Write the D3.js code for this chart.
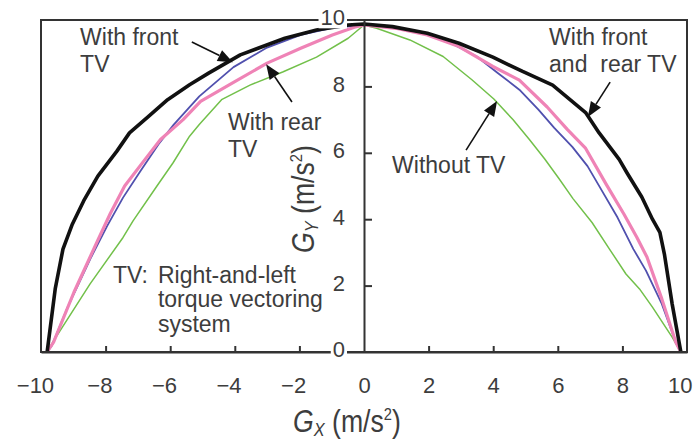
<!DOCTYPE html>
<html>
<head>
<meta charset="utf-8">
<script src="https://cdn.jsdelivr.net/npm/d3@7"></script>
<style>
  html, body { margin: 0; padding: 0; background: #fff; }
  svg { display: block; }
  text { font-family: "Liberation Sans", Arial, Helvetica, sans-serif; }
</style>
</head>
<body>
<svg id="chart" width="693" height="442"></svg>
<script>
// Lateral (Gy) vs longitudinal (Gx) acceleration envelopes, [Gx, Gy] in m/s^2
const withFrontRearTV = [
  [-9.81, 0], [-9.56, 1.9], [-9.32, 3.1], [-9.03, 3.85], [-8.68, 4.55], [-8.24, 5.3],
  [-7.65, 6.05], [-7.26, 6.6], [-6.67, 7.1], [-6.08, 7.6], [-5.40, 8.05], [-4.81, 8.4],
  [-3.83, 8.95], [-2.45, 9.45], [-1.47, 9.7], [-0.49, 9.85], [0, 9.88],
  [0.88, 9.8], [1.96, 9.6], [2.94, 9.3], [3.99, 8.88], [4.91, 8.45], [5.84, 8.04],
  [6.87, 7.2], [7.28, 6.6], [7.90, 5.8], [8.14, 5.4], [8.60, 4.67], [8.93, 4.0],
  [9.16, 3.6], [9.30, 2.95], [9.54, 1.45], [9.81, 0]
];
const withFrontTV = [
  [-9.81, 0], [-9.66, 0.2], [-9.17, 1.36], [-8.44, 2.87], [-7.95, 3.8], [-7.46, 4.65],
  [-6.92, 5.45], [-6.33, 6.3], [-5.89, 6.85], [-5.10, 7.7], [-4.04, 8.58], [-3.0, 9.17],
  [-1.96, 9.55], [-0.98, 9.76], [0, 9.85],
  [1.42, 9.7], [2.40, 9.45], [3.49, 8.9], [4.12, 8.42], [4.81, 7.9], [5.40, 7.3],
  [5.89, 6.75], [6.45, 6.18], [6.92, 5.6], [7.31, 4.95], [7.85, 4.05], [8.34, 3.1],
  [8.73, 2.45], [9.22, 1.45], [9.65, 0.3], [9.81, 0]
];
const withRearTV = [
  [-9.81, 0], [-9.61, 0.3], [-8.98, 1.8], [-8.24, 3.37], [-7.85, 4.18], [-7.41, 5.0],
  [-6.82, 5.75], [-6.3, 6.4], [-5.6, 7.0], [-5.06, 7.55], [-4.04, 8.12],
  [-3.0, 8.7], [-1.96, 9.15], [-0.98, 9.55], [-0.3, 9.78], [0, 9.85],
  [0.98, 9.75], [1.96, 9.55], [2.94, 9.2], [3.99, 8.6], [4.81, 8.19], [5.67, 7.38],
  [6.3, 6.7], [6.85, 6.15], [7.5, 5.05], [8.05, 4.15], [8.45, 3.45], [8.76, 2.86],
  [9.22, 1.6], [9.65, 0.3], [9.81, 0]
];
const withoutTV = [
  [-9.81, 0], [-9.6, 0.35], [-8.48, 2.05], [-7.46, 3.45], [-7.15, 3.95], [-6.41, 5.0],
  [-5.91, 5.7], [-5.4, 6.5], [-5.1, 6.85], [-4.41, 7.6], [-3.53, 8.04], [-2.50, 8.44],
  [-1.47, 8.88], [-0.49, 9.45], [0, 9.85],
  [0.39, 9.75], [1.42, 9.4], [2.45, 8.9], [3.34, 8.2], [4.02, 7.62], [4.61, 7.0],
  [5.12, 6.4], [5.59, 5.82], [6.04, 5.22], [6.47, 4.62], [7.06, 3.9], [7.60, 3.1],
  [8.11, 2.35], [8.53, 1.9], [8.93, 1.35], [9.54, 0.45], [9.81, 0]
];

const xTicks = [-10, -8, -6, -4, -2, 0, 2, 4, 6, 8, 10];
const yTicks = [0, 2, 4, 6, 8, 10];

// Callout labels: text lines, anchor point [Gx, Gy] of the first baseline
const notes = [
  { lines: ["With front", "TV"], at: [-8.79, 9.25] },
  { lines: ["With rear", "TV"], at: [-4.21, 6.69] },
  { lines: ["With front", "and  rear TV"], at: [5.73, 9.25] },
  { lines: ["Without TV"], at: [0.87, 5.39] }
];
// Arrows: [tail, tip] in data units
const arrows = [
  [[-5.33, 9.34], [-4.06, 8.73]],
  [[-2.23, 7.53], [-3.03, 8.67]],
  [[7.62, 8.13], [6.93, 7.08]],
  [[3.16, 6.08], [4.12, 7.56]]
];

const svg = d3.select("#chart");
const x = d3.scaleLinear().domain([-10, 10]).range([41, 687]);
const y = d3.scaleLinear().domain([0, 10]).range([352, 20]);

const ink = "#333";
const textInk = "#3d3d3d";

// curves
const line = d3.line().x(d => x(d[0])).y(d => y(d[1]));
const series = [
  { data: withoutTV, color: "#72c04a", width: 1.5 },
  { data: withFrontTV, color: "#5050ae", width: 1.8 },
  { data: withRearTV, color: "#ef83b6", width: 3.2 },
  { data: withFrontRearTV, color: "#111", width: 3.6 }
];
svg.append("g").selectAll("path").data(series).join("path")
  .attr("d", d => line(d.data))
  .attr("fill", "none")
  .attr("stroke", d => d.color)
  .attr("stroke-width", d => d.width)
  .attr("stroke-linejoin", "round");

// frame
svg.append("rect")
  .attr("x", x(-10)).attr("y", y(10))
  .attr("width", x(10) - x(-10)).attr("height", y(0) - y(10))
  .attr("fill", "none").attr("stroke", ink).attr("stroke-width", 2);

// bottom axis
const xAxis = svg.append("g")
  .attr("transform", `translate(0,${y(0)})`)
  .call(d3.axisBottom(x).tickValues(xTicks).tickSize(-6).tickSizeOuter(0).tickPadding(25)
    .tickFormat(d => d < 0 ? "\u2212" + Math.abs(d) : String(d)));
xAxis.select(".domain").attr("stroke", ink).attr("stroke-width", 2);
xAxis.selectAll(".tick line").attr("stroke", ink).attr("stroke-width", 2)
  .attr("display", d => (d === 0 || Math.abs(d) === 10) ? "none" : null);
xAxis.selectAll(".tick text")
  .attr("font-size", 22).attr("fill", textInk)
  .attr("font-family", "'Liberation Sans', Arial, sans-serif")
  .attr("text-anchor", d => d < 0 || d === 10 ? "end" : "middle")
  .attr("dx", d => d < 0 ? (String(Math.abs(d)).length * 6.3) : (d === 10 ? 5 : 0));

// centre (Gy) axis
const yAxis = svg.append("g")
  .attr("transform", `translate(${x(0)},0)`)
  .call(d3.axisLeft(y).tickValues(yTicks).tickSize(-8).tickSizeOuter(0).tickPadding(19));
yAxis.select(".domain").attr("stroke", ink).attr("stroke-width", 2);
yAxis.selectAll(".tick line").attr("stroke", ink).attr("stroke-width", 2)
  .attr("display", d => (d === 0 || d === 10) ? "none" : null);
yAxis.selectAll(".tick text")
  .attr("font-size", 22).attr("fill", textInk)
  .attr("font-family", "'Liberation Sans', Arial, sans-serif")
  .attr("dy", "0.22em");
// clear the frame line behind the end labels
yAxis.selectAll(".tick").filter(d => d === 0 || d === 10).each(function () {
  const t = d3.select(this).select("text");
  const b = t.node().getBBox();
  d3.select(this).insert("rect", "text")
    .attr("x", b.x - 2).attr("y", b.y + 2)
    .attr("width", b.width + 4).attr("height", b.height - 4)
    .attr("fill", "#fff");
});

// axis titles
function axisTitle(g, sub) {
  const t = g.append("text").attr("font-size", 31).attr("fill", textInk);
  t.append("tspan").attr("font-style", "italic").text("G");
  t.append("tspan").attr("font-style", "italic").attr("font-size", 19).attr("dy", 4).text(sub);
  t.append("tspan").attr("dy", -4).text(" (m/s");
  t.append("tspan").attr("font-size", 17).attr("dy", -12).text("2");
  t.append("tspan").attr("dy", 12).text(")");
}
axisTitle(svg.append("g").attr("transform", "translate(293,432) scale(0.86,1)"), "X");
axisTitle(svg.append("g").attr("transform", "translate(314,253) rotate(-90) scale(0.86,1)"), "Y");

// callouts
const noteG = svg.append("g").attr("font-size", 23).attr("fill", textInk);
notes.forEach(n => {
  const t = noteG.append("text").attr("x", x(n.at[0])).attr("y", y(n.at[1]))
    .style("white-space", "pre");
  n.lines.forEach((s, i) => {
    t.append("tspan").attr("x", x(n.at[0])).attr("dy", i === 0 ? 0 : 27).text(s);
  });
});

// system legend note
const legendAt = [-7.77, 2.08];
const legendTextX = -6.38;
const legendLines = ["Right-and-left", "torque vectoring", "system"];
noteG.append("text").attr("x", x(legendAt[0])).attr("y", y(legendAt[1])).text("TV:");
const lt = noteG.append("text").attr("y", y(legendAt[1]));
legendLines.forEach((s, i) => {
  lt.append("tspan").attr("x", x(legendTextX)).attr("dy", i === 0 ? 0 : 24.5).text(s);
});

// arrows
const arrowG = svg.append("g");
arrows.forEach(([a, b]) => {
  const x0 = x(a[0]), y0 = y(a[1]), x1 = x(b[0]), y1 = y(b[1]);
  const len = Math.hypot(x1 - x0, y1 - y0);
  const ux = (x1 - x0) / len, uy = (y1 - y0) / len;
  const hl = 15, hw = 6;
  const bx = x1 - ux * hl, by = y1 - uy * hl;
  arrowG.append("line")
    .attr("x1", x0).attr("y1", y0).attr("x2", bx).attr("y2", by)
    .attr("stroke", "#111").attr("stroke-width", 1.6);
  arrowG.append("path")
    .attr("d", `M${x1},${y1}L${bx - uy * hw},${by + ux * hw}L${bx + uy * hw},${by - ux * hw}Z`)
    .attr("fill", "#111");
});
</script>
</body>
</html>
